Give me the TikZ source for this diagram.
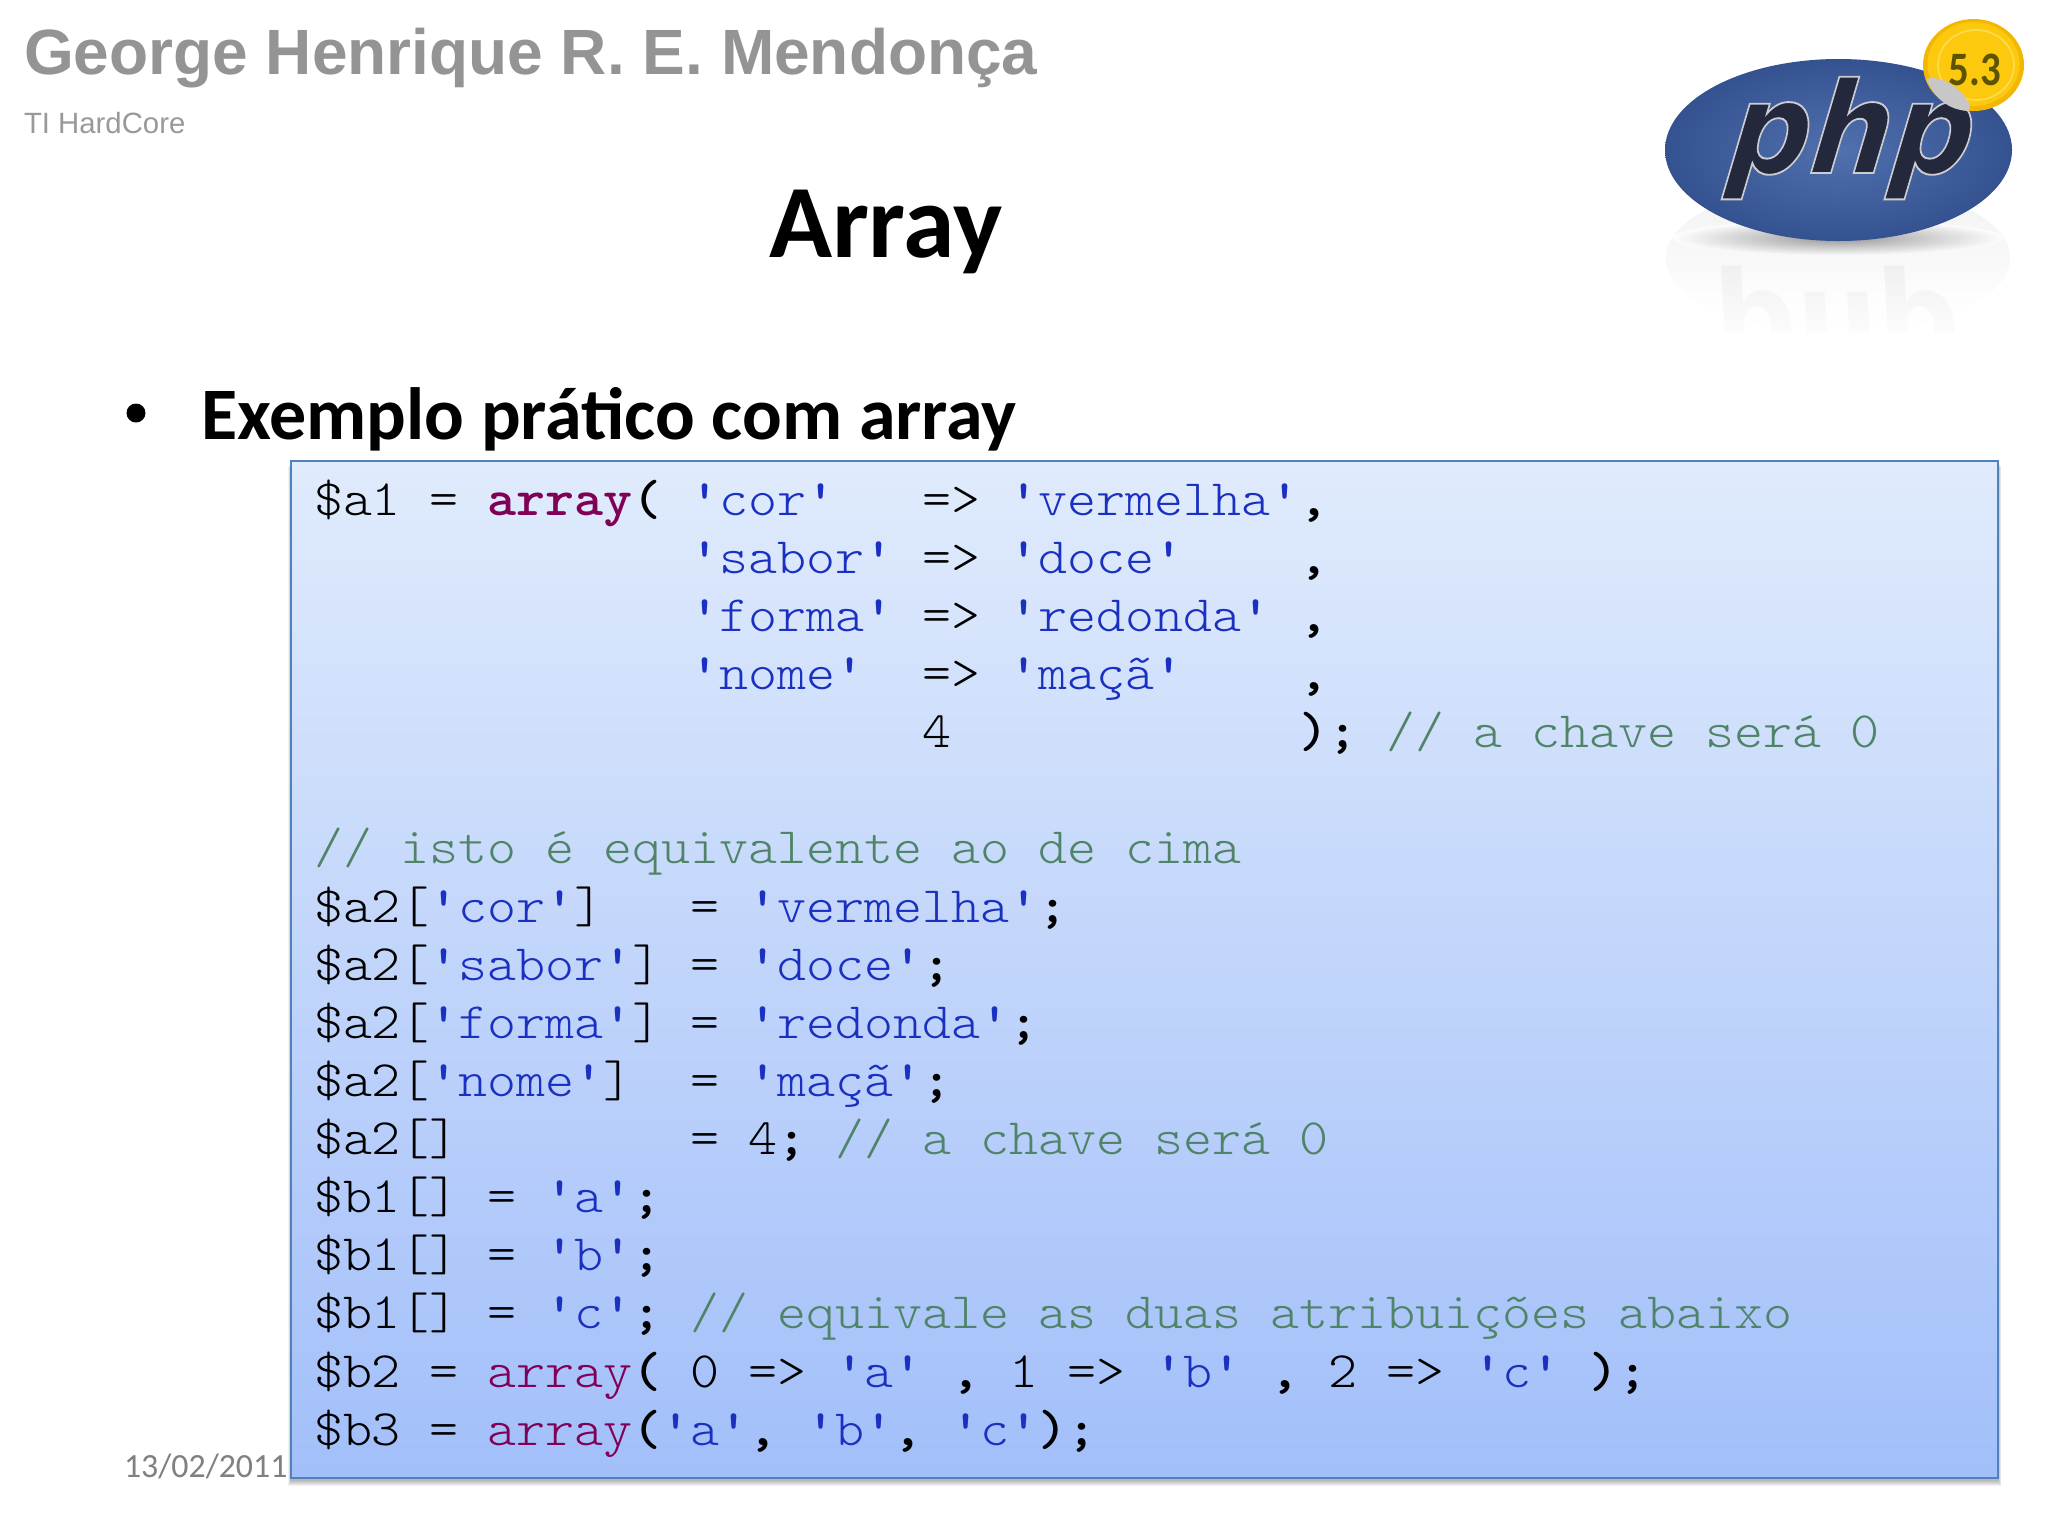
\documentclass[tikz,border=0pt]{standalone}
\usepackage{fontspec}
\usetikzlibrary{fadings,shadings}
\setmainfont{Carlito}
\newfontfamily\codefont[FakeStretch=1.083]{Latin Modern Mono Light}
\newfontfamily\headfont{Liberation Sans}
\newfontfamily\logofont{DejaVu Sans}
\definecolor{kwcol}{HTML}{7F0055}
\definecolor{strcol}{HTML}{1A30C0}
\definecolor{comcol}{HTML}{4F8468}
\definecolor{boxtop}{HTML}{E0EBFC}
\definecolor{boxbot}{HTML}{A2BFFA}
\definecolor{boxline}{HTML}{4F81BD}
\definecolor{ovalout}{HTML}{34528F}
\definecolor{ovalin}{HTML}{5070AE}
\definecolor{phpdark}{HTML}{23283C}
\definecolor{badgeedge}{HTML}{F2B705}
\definecolor{badgefill}{HTML}{FDC90F}
\definecolor{badgering}{HTML}{FBDD55}
\definecolor{badgetext}{HTML}{5C5400}
\newcommand{\ckwb}[1]{\textcolor{kwcol}{\textbf{#1}}}
\newcommand{\ckw}[1]{\textcolor{kwcol}{#1}}
\newcommand{\cstr}[1]{\textcolor{strcol}{\textbf{'}#1\textbf{'}}}
\newcommand{\ccom}[1]{\textcolor{comcol}{#1}}
\newcommand{\pL}{\textbf{(}}
\newcommand{\pR}{\textbf{)}}
\newcommand{\pC}{\textbf{,}}
\newcommand{\pS}{\textbf{;}}
\newcommand{\halotext}[1]{\special{pdf:code q 2 Tr 1.4 w 0.8 0.8 0.82 RG}#1\special{pdf:code Q}}
\tikzset{
  txt/.style={inner sep=0pt,outer sep=0pt,anchor=base west},
  codetext/.style={inner sep=0pt,outer sep=0pt,anchor=north west,align=left,text=black,
    font=\codefont\fontsize{38.25}{43.6}\selectfont},
  logotext/.style={inner sep=0pt,outer sep=0pt,anchor=base,xslant=0.12,xscale=0.9,transform shape,
    font=\logofont\bfseries\itshape\fontsize{95}{95}\selectfont},
}
\begin{document}
\begin{tikzpicture}[x=0.75pt,y=-0.75pt]
\useasboundingbox (0,0) rectangle (2048,1536);
\fill[white] (0,0) rectangle (2048,1536);
% header
\node[txt,text=black!42,font=\headfont\bfseries\fontsize{48}{48}\selectfont] (author) at (24,74) {George Henrique R. E. Mendonça};
\node[txt,text=black!40,font=\headfont\fontsize{22}{22}\selectfont] (sub) at (24,133) {TI HardCore};
\node[txt,text=black,font=\bfseries\fontsize{78}{78}\selectfont] (title) at (769,257) {Array};
\fill[black] (136,413) circle (9.5);
\node[txt,text=black,font=\bfseries\fontsize{55.5}{55.5}\selectfont] (bullet) at (201,439) {Exemplo prático com array};
\node[txt,text=black!50,font=\fontsize{25.4}{25.4}\selectfont] (date) at (124,1477) {13/02/2011};
% logo reflection and shadow
\shade[top color=black!5,bottom color=white] (1838,258) ellipse (172 and 75);
\begin{scope}
\clip (1660,250) rectangle (2020,332);
\node[logotext,text=black!6,yscale=-1] (phpghost) at (1842,292) {php};
\end{scope}
\fill[white,path fading=north] (1655,262) rectangle (2025,345);
\shade[inner color=black!50,outer color=white,opacity=0.8] (1838,238) ellipse (165 and 18);
% logo
\shade[inner color=ovalin,outer color=ovalout] (1838.5,150) ellipse (173.5 and 91);
\node[logotext,text=phpdark] (php) at (1848,173) {\halotext{php}};
% badge
\fill[badgeedge] (1973.5,65) ellipse (50.5 and 46);
\fill[badgefill] (1973.5,64) ellipse (46 and 42);
\draw[badgering,line width=1.2pt] (1976,65) ellipse (38 and 35);
\fill[black!22] (1926,79) .. controls (1938,103) and (1952,110) .. (1968,111)
  .. controls (1978,108) and (1950,72) .. (1926,79) -- cycle;
\node[inner sep=0pt,text=badgetext,xscale=0.85,transform shape,font=\bfseries\fontsize{36}{36}\selectfont] (ver) at (1975,70) {5.3};
% code box
\foreach \k in {1,...,6}
  \fill[black,opacity=0.05] (291-\k/2,461+\k) rectangle (1998+\k/2,1478+\k+2);
\node[draw=boxline,line width=1.8pt,top color=boxtop,bottom color=boxbot,inner sep=0pt,outer sep=0pt,
  minimum width=1707*0.75pt,minimum height=1017*0.75pt,anchor=north west] (codebox) at (291,461) {};
\node[codetext] (code) at (314,479.5) {%
\$a1 = \ckwb{array}\pL{} \cstr{cor}~~~=> \cstr{vermelha}\pC\\
~~~~~~~~~~~~~\cstr{sabor} => \cstr{doce}~~~~\pC\\
~~~~~~~~~~~~~\cstr{forma} => \cstr{redonda} \pC\\
~~~~~~~~~~~~~\cstr{nome}~~=> \cstr{maçã}~~~~\pC\\
~~~~~~~~~~~~~~~~~~~~~4~~~~~~~~~~~~\pR\pS{} \ccom{// a chave será 0}\\
~\\
\ccom{// isto é equivalente ao de cima}\\
\$a2[\cstr{cor}]~~~= \cstr{vermelha}\pS\\
\$a2[\cstr{sabor}] = \cstr{doce}\pS\\
\$a2[\cstr{forma}] = \cstr{redonda}\pS\\
\$a2[\cstr{nome}]~~= \cstr{maçã}\pS\\
\$a2[]~~~~~~~~= 4\pS{} \ccom{// a chave será 0}\\
\$b1[] = \cstr{a}\pS\\
\$b1[] = \cstr{b}\pS\\
\$b1[] = \cstr{c}\pS{} \ccom{// equivale as duas atribuições abaixo}\\
\$b2 = \ckw{array}\pL{} 0 => \cstr{a} \pC{} 1 => \cstr{b} \pC{} 2 => \cstr{c} \pR\pS\\
\$b3 = \ckw{array}\pL\cstr{a}\pC{} \cstr{b}\pC{} \cstr{c}\pR\pS};
\end{tikzpicture}
\end{document}
